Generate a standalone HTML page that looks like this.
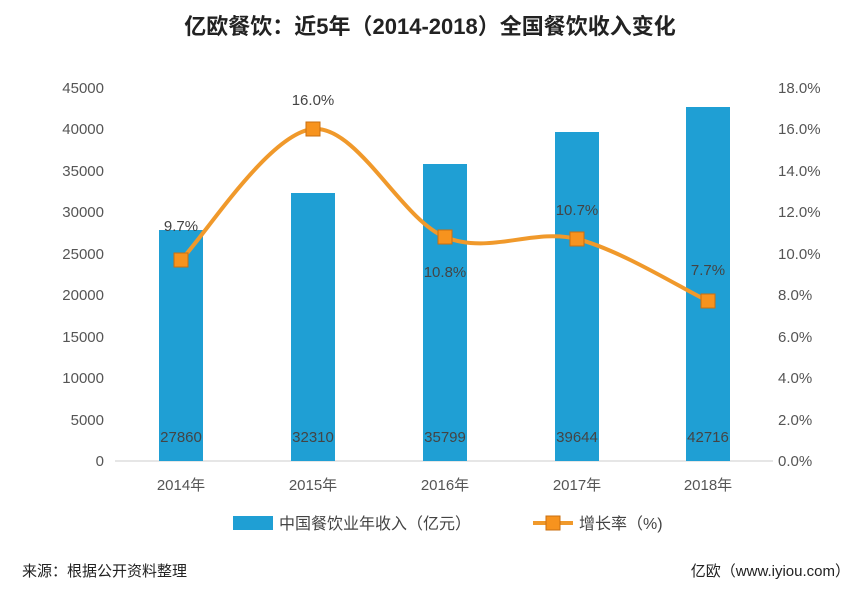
<!DOCTYPE html>
<html><head><meta charset="utf-8"><style>
body{margin:0;background:#fff;}
svg text{font-family:"Liberation Sans","Noto Sans CJK SC",sans-serif;}
</style></head><body>
<svg width="860" height="590" viewBox="0 0 860 590" xmlns="http://www.w3.org/2000/svg">
<rect width="860" height="590" fill="#fff"/>
<text x="430" y="34" text-anchor="middle" font-size="22" font-weight="bold" fill="#222">亿欧餐饮：近5年（2014-2018）全国餐饮收入变化</text>
<g font-size="15" fill="#555" text-anchor="end">
<text x="104" y="93">45000</text><text x="104" y="134">40000</text><text x="104" y="176">35000</text>
<text x="104" y="217">30000</text><text x="104" y="259">25000</text><text x="104" y="300">20000</text>
<text x="104" y="342">15000</text><text x="104" y="383">10000</text><text x="104" y="425">5000</text>
<text x="104" y="466">0</text>
</g>
<g font-size="15" fill="#555">
<text x="778" y="93">18.0%</text><text x="778" y="134">16.0%</text><text x="778" y="176">14.0%</text>
<text x="778" y="217">12.0%</text><text x="778" y="259">10.0%</text><text x="778" y="300">8.0%</text>
<text x="778" y="342">6.0%</text><text x="778" y="383">4.0%</text><text x="778" y="425">2.0%</text>
<text x="778" y="466">0.0%</text>
</g>
<line x1="115" y1="461" x2="773" y2="461" stroke="#ccc" stroke-width="1"/>
<g fill="#1f9fd4">
<rect x="159" y="230" width="44" height="231"/>
<rect x="291" y="193" width="44" height="268"/>
<rect x="423" y="164" width="44" height="297"/>
<rect x="555" y="132" width="44" height="329"/>
<rect x="686" y="107" width="44" height="354"/>
</g>
<g font-size="15" fill="#444" text-anchor="middle">
<text x="181" y="442">27860</text><text x="313" y="442">32310</text><text x="445" y="442">35799</text>
<text x="577" y="442">39644</text><text x="708" y="442">42716</text>
</g>
<g font-size="15" fill="#555" text-anchor="middle">
<text x="181" y="490">2014年</text><text x="313" y="490">2015年</text><text x="445" y="490">2016年</text>
<text x="577" y="490">2017年</text><text x="708" y="490">2018年</text>
</g>
<path d="M181,260 C203,238 269,133 313,129 C357,125 401,219 445,237 C489,255 533,228 577,239 C621,250 686,291 708,301" fill="none" stroke="#f0992b" stroke-width="4"/>
<g fill="#f7931e" stroke="#c96f10" stroke-width="1">
<rect x="174" y="253" width="14" height="14"/><rect x="306" y="122" width="14" height="14"/>
<rect x="438" y="230" width="14" height="14"/><rect x="570" y="232" width="14" height="14"/>
<rect x="701" y="294" width="14" height="14"/>
</g>
<g font-size="15" fill="#444" text-anchor="middle">
<text x="181" y="231">9.7%</text><text x="313" y="105">16.0%</text><text x="445" y="277">10.8%</text>
<text x="577" y="215">10.7%</text><text x="708" y="275">7.7%</text>
</g>
<rect x="233" y="516" width="40" height="14" fill="#1f9fd4"/>
<text x="279" y="529" font-size="16" fill="#444">中国餐饮业年收入（亿元）</text>
<line x1="533" y1="523" x2="573" y2="523" stroke="#f0992b" stroke-width="4"/>
<rect x="546" y="516" width="14" height="14" fill="#f7931e" stroke="#c96f10"/>
<text x="579" y="529" font-size="16" fill="#444">增长率（%)</text>
<text x="22" y="576" font-size="15" fill="#222">来源：根据公开资料整理</text>
<text x="850" y="576" font-size="15" fill="#222" text-anchor="end">亿欧（www.iyiou.com）</text>
</svg>
</body></html>
